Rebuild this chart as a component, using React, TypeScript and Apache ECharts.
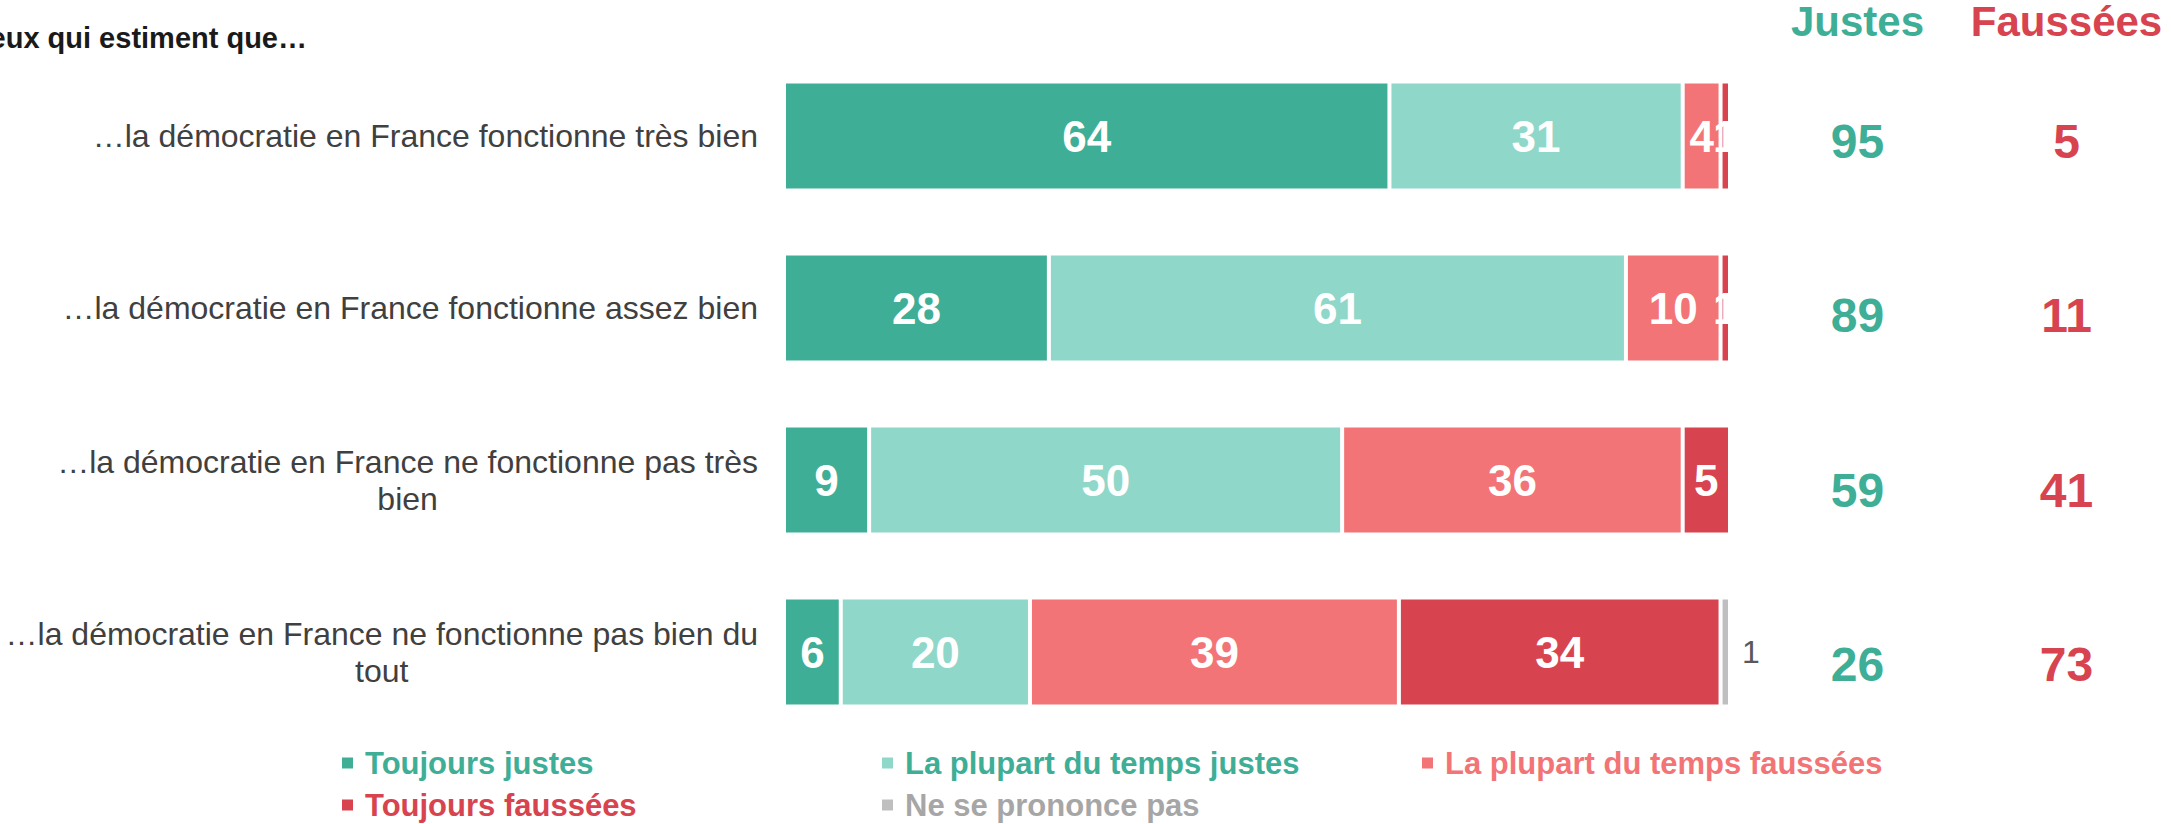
import React, { useEffect, useRef } from "react";
import * as echarts from "echarts";

const categories = [
  "…la démocratie en France fonctionne très bien",
  "…la démocratie en France fonctionne assez bien",
  "…la démocratie en France ne fonctionne pas très\nbien",
  "…la démocratie en France ne fonctionne pas bien du\ntout",
];
const seriesNames = [
  "Toujours justes",
  "La plupart du temps justes",
  "La plupart du temps faussées",
  "Toujours faussées",
  "Ne se prononce pas",
];
const toujoursJustes = [64, 28, 9, 6];
const plupartJustes = [31, 61, 50, 20];
const plupartFaussees = [4, 10, 36, 39];
const toujoursFaussees = [1, 1, 5, 34];
const neSePrononcePas = [0, 0, 0, 1];
const columnHeaders = ["Justes", "Faussées"];
const totalJustes = [95, 89, 59, 26];
const totalFaussees = [5, 11, 41, 73];
const titleText = "Ceux qui estiment que…";

const FONT = "'Liberation Sans', Arial, sans-serif";
const TEAL = "#3FAE96";
const LIGHT_TEAL = "#8FD7C9";
const SALMON = "#F37476";
const RED = "#D7444F";
const GREY = "#BFBFBF";

export default function App() {
  const ref = useRef<HTMLDivElement>(null);
  useEffect(() => {
    if (!ref.current) return;
    const chart = echarts.init(ref.current, null, { renderer: "svg" });
    const values = [toujoursJustes, plupartJustes, plupartFaussees, toujoursFaussees, neSePrononcePas];
    const colors = [TEAL, LIGHT_TEAL, SALMON, RED, GREY];
    const legendTextColors = [TEAL, TEAL, SALMON, RED, "#A6A6A6"];

    const barSeries = values.map((arr, k) => ({
      type: "bar",
      name: seriesNames[k],
      stack: "total",
      xAxisIndex: 0,
      yAxisIndex: 0,
      barWidth: 109,
      data: arr,
      itemStyle: { color: colors[k], borderColor: "#ffffff", borderWidth: 2 },
      label:
        k === 4
          ? {
              show: true,
              position: "right",
              distance: 12,
              color: "#595959",
              fontSize: 32,
              fontFamily: FONT,
              formatter: (p: any) => (p.value > 0 ? String(p.value) : ""),
            }
          : {
              show: true,
              position: "inside",
              color: "#ffffff",
              fontSize: 44,
              fontWeight: "bold",
              fontFamily: FONT,
              formatter: (p: any) => (p.value > 0 ? String(p.value) : ""),
            },
      emphasis: { disabled: true },
    }));

    const totals = [totalJustes, totalFaussees];
    const totalColors = [TEAL, RED];
    const totalSeries = totals.map((arr, k) => ({
      type: "scatter",
      name: columnHeaders[k],
      xAxisIndex: 1,
      yAxisIndex: 1,
      symbolSize: 1,
      itemStyle: { color: "rgba(0,0,0,0)", opacity: 1 },
      data: arr.map((v, i) => [k, i, v]),
      label: {
        show: true,
        position: "inside",
        color: totalColors[k],
        fontSize: 48,
        fontWeight: "bold",
        fontFamily: FONT,
        formatter: (p: any) => String(p.value[2]),
      },
      emphasis: { disabled: true },
    }));

    chart.setOption({
      animation: false,
      grid: [
        { left: 784, right: 441, top: 50, bottom: 86, outerBoundsMode: "none" },
        { left: 1753, right: 0, top: 54, bottom: 72, outerBoundsMode: "none" },
      ],
      xAxis: [
        { type: "value", gridIndex: 0, min: 0, max: 100, show: false },
        {
          type: "category",
          gridIndex: 1,
          position: "top",
          data: columnHeaders.map((h, k) => ({ value: h, textStyle: { color: totalColors[k] } })),
          axisLine: { show: false },
          axisTick: { show: false },
          splitLine: { show: false },
          axisLabel: {
            show: true,
            interval: 0,
            fontSize: 42,
            fontWeight: "bold",
            fontFamily: FONT,
            margin: 12,
          },
        },
      ],
      yAxis: [
        {
          type: "category",
          gridIndex: 0,
          inverse: true,
          data: categories,
          axisLine: { show: false },
          axisTick: { show: false },
          splitLine: { show: false },
          axisLabel: {
            margin: 26,
            interval: 0,
            formatter: (v: string) =>
              v
                .split("\n")
                .map((l) => `{c|${l}}`)
                .join("\n"),
            rich: {
              c: {
                align: "center",
                fontSize: 32,
                lineHeight: 37,
                color: "#404040",
                fontFamily: FONT,
              },
            },
          },
        },
        {
          type: "category",
          gridIndex: 1,
          inverse: true,
          data: categories,
          show: false,
        },
      ],
      legend: {
        left: 342,
        top: 747,
        width: 1700,
        padding: 0,
        orient: "horizontal",
        icon: "rect",
        itemWidth: 11,
        itemHeight: 11,
        itemGap: 10,
        selectedMode: false,
        itemStyle: { borderWidth: 0 },
        textStyle: {
          fontSize: 31,
          fontWeight: "bold",
          fontFamily: FONT,
          width: 507,
          lineHeight: 32,
          padding: [0, 0, 0, 7],
        },
        data: seriesNames.map((n, k) => ({ name: n, textStyle: { color: legendTextColors[k] } })),
      },
      graphic: [
        {
          type: "text",
          x: 307,
          y: 38,
          style: {
            text: titleText,
            align: "right",
            verticalAlign: "middle",
            fontSize: 29,
            fontWeight: "bold",
            fontFamily: FONT,
            fill: "#1a1a1a",
          },
        },
      ],
      series: [...barSeries, ...totalSeries],
    });
    return () => chart.dispose();
  }, []);
  return (
    <div
      ref={ref}
      style={{ position: "absolute", left: 0, top: 0, width: 2171, height: 824, background: "#ffffff" }}
    />
  );
}
